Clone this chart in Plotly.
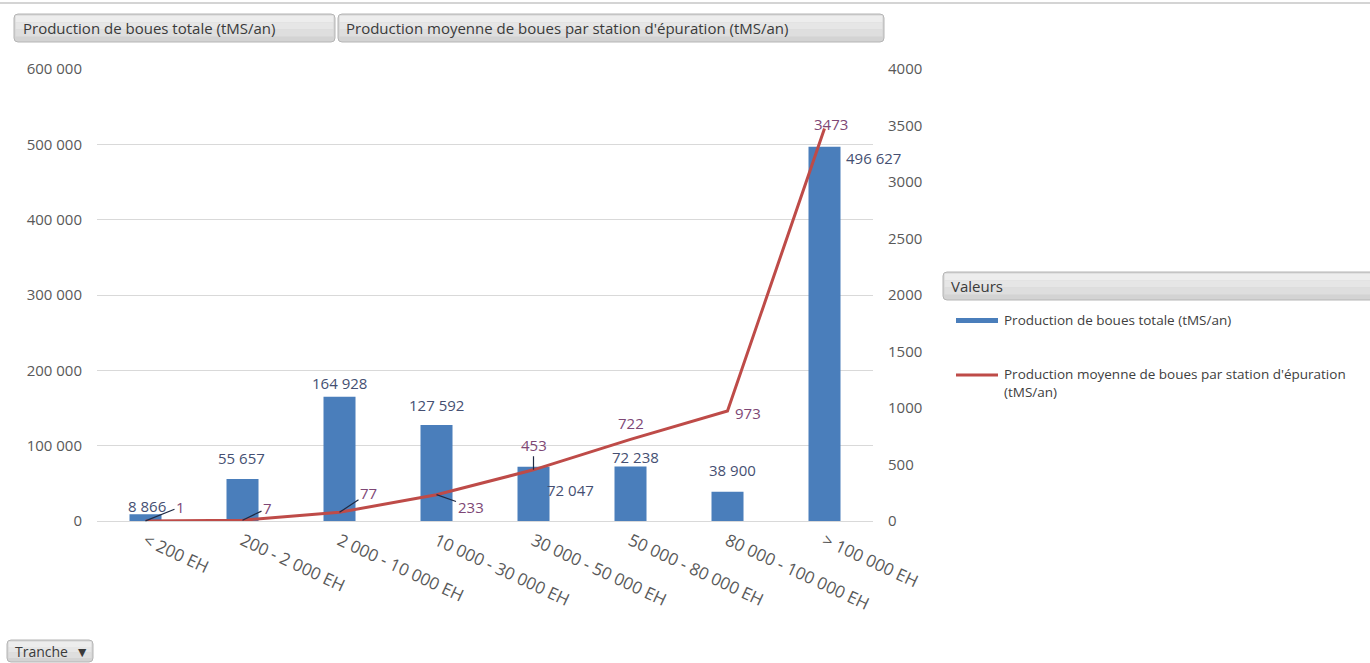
import plotly.graph_objects as go

# ---- data -------------------------------------------------------------
tranches = [
    "< 200 EH", "200 - 2 000 EH", "2 000 - 10 000 EH", "10 000 - 30 000 EH",
    "30 000 - 50 000 EH", "50 000 - 80 000 EH", "80 000 - 100 000 EH", "> 100 000 EH",
]
production_totale = [8866, 55657, 164928, 127592, 72047, 72238, 38900, 496627]      # tMS/an
production_moyenne = [1, 7, 77, 233, 453, 722, 973, 3473]                          # tMS/an par station

left_tickvals = [0, 100000, 200000, 300000, 400000, 500000, 600000]
left_ticktext = ["0", "100 000", "200 000", "300 000", "400 000", "500 000", "600 000"]
right_tickvals = [0, 500, 1000, 1500, 2000, 2500, 3000, 3500, 4000]
right_ticktext = ["0", "500", "1000", "1500", "2000", "2500", "3000", "3500", "4000"]

serie_totale = "Production de boues totale (tMS/an)"
serie_moyenne = "Production moyenne de boues par station d'épuration (tMS/an)"

# ---- label placement (pixel offsets from each mark) --------------------
bar_label_dx = [1, -1, 0, 0, 37, 5, 5, 49]
bar_label_dy = [-8, -21, -14, -20, 23, -10, -22, 11]
line_label_dx = [35, 25, 29, 34, 0, 0, 20, 6]
line_label_dy = [-14, -12, -19, 12, -25, -16, 2, -5]
line_label_leader = [True, True, True, True, True, False, False, False]

# ---- page geometry ----------------------------------------------------
W, H = 1370, 663
L, R, T, B = 97, 873, 69, 521


def px(xp):
    return (xp - L) / (R - L)


def py(yp):
    return (B - yp) / (B - T)


def fmt_space(v):
    return f"{v:,}".replace(",", " ")


FONT = "Open Sans"
TICK_COLOR = "#595959"
BAR_COLOR = "#4A7EBB"
LINE_COLOR = "#BE4B48"
BAR_LABEL_COLOR = "#454F72"
LINE_LABEL_COLOR = "#7E4775"
LEADER_COLOR = "#1F2A44"

fig = go.Figure()

fig.add_trace(go.Bar(
    x=tranches, y=production_totale, name=serie_totale,
    marker=dict(color=BAR_COLOR, line=dict(width=0)), width=0.33,
))
fig.add_trace(go.Scatter(
    x=tranches, y=production_moyenne, name=serie_moyenne, yaxis="y2",
    mode="lines", line=dict(color=LINE_COLOR, width=3),
))

# data labels for the bars
for cat, v, dx, dy in zip(tranches, production_totale, bar_label_dx, bar_label_dy):
    fig.add_annotation(
        x=cat, y=v, xref="x", yref="y", text=fmt_space(v), showarrow=False,
        xshift=dx, yshift=-dy, font=dict(family=FONT, size=15, color=BAR_LABEL_COLOR),
    )

# data labels for the line, some with leader lines
for cat, v, dx, dy, lead in zip(tranches, production_moyenne, line_label_dx,
                                line_label_dy, line_label_leader):
    common = dict(x=cat, y=v, xref="x", yref="y2", text=str(v),
                  font=dict(family=FONT, size=15, color=LINE_LABEL_COLOR))
    if lead:
        fig.add_annotation(**common, showarrow=True, arrowhead=0, arrowwidth=1.2,
                           arrowcolor=LEADER_COLOR, ax=dx, ay=dy, standoff=0)
    else:
        fig.add_annotation(**common, showarrow=False, xshift=dx, yshift=-dy)


# ---- field buttons and legend ------------------------------------------
def rounded_path(x0, y0, x1, y1, r):
    pts = [
        f"M {px(x0 + r)},{py(y0)}",
        f"L {px(x1 - r)},{py(y0)}",
        f"Q {px(x1)},{py(y0)} {px(x1)},{py(y0 + r)}",
        f"L {px(x1)},{py(y1 - r)}",
        f"Q {px(x1)},{py(y1)} {px(x1 - r)},{py(y1)}",
        f"L {px(x0 + r)},{py(y1)}",
        f"Q {px(x0)},{py(y1)} {px(x0)},{py(y1 - r)}",
        f"L {px(x0)},{py(y0 + r)}",
        f"Q {px(x0)},{py(y0)} {px(x0 + r)},{py(y0)}",
        "Z",
    ]
    return " ".join(pts)


def button(x0, y0, x1, y1, label, tx, size=15):
    fig.add_shape(type="path", xref="paper", yref="paper",
                  path=rounded_path(x0, y0, x1, y1, 4),
                  fillcolor="#D3D3D3", line=dict(color="#B5B5B5", width=1), layer="below")
    # soft vertical shading, lighter towards the top
    h = y1 - y0
    shades = ["#EDEDED", "#E6E6E6", "#DEDEDE"]
    for k, c in enumerate(shades):
        fig.add_shape(type="rect", xref="paper", yref="paper",
                      x0=px(x0 + 1.5), x1=px(x1 - 1.5),
                      y0=py(y0 + 1.5 + k * h * 0.25), y1=py(y0 + 1.5 + (k + 1) * h * 0.25),
                      fillcolor=c, line=dict(width=0), layer="below")
    fig.add_annotation(x=px(tx), y=py((y0 + y1) / 2), xref="paper", yref="paper",
                       text=label, showarrow=False, xanchor="left", yanchor="middle",
                       font=dict(family=FONT, size=size, color="#3A3A3A"))


# thin rule across the top of the page
fig.add_shape(type="line", xref="paper", yref="paper", x0=px(0), x1=px(W),
              y0=py(3), y1=py(3), line=dict(color="#D4D4D4", width=2))

button(14, 14, 335, 42, serie_totale, 21)
button(338, 14, 884, 42, serie_moyenne, 344)
button(943, 272, 1380, 300, "Valeurs", 949)
button(7, 640, 93, 662, "Tranche  \u25BC", 13, size=14)

# legend entries
fig.add_shape(type="rect", xref="paper", yref="paper", x0=px(956), x1=px(998),
              y0=py(318), y1=py(323), fillcolor=BAR_COLOR, line=dict(width=0))
fig.add_annotation(x=px(1002), y=py(320), xref="paper", yref="paper", text=serie_totale,
                   showarrow=False, xanchor="left", yanchor="middle",
                   font=dict(family=FONT, size=13.5, color="#404040"))
fig.add_shape(type="line", xref="paper", yref="paper", x0=px(956), x1=px(998),
              y0=py(375), y1=py(375), line=dict(color=LINE_COLOR, width=3))
fig.add_annotation(x=px(1002), y=py(383), xref="paper", yref="paper",
                   text="Production moyenne de boues par station d'épuration<br>(tMS/an)",
                   showarrow=False, xanchor="left", yanchor="middle", align="left",
                   font=dict(family=FONT, size=13.5, color="#404040"))

# ---- axes & layout ------------------------------------------------------
tickfont = dict(family=FONT, size=15, color=TICK_COLOR)
fig.update_layout(
    width=W, height=H,
    margin=dict(l=L, r=W - R, t=T, b=H - B, autoexpand=False),
    paper_bgcolor="white", plot_bgcolor="white",
    showlegend=False,
    font=dict(family=FONT),
    xaxis=dict(type="category", range=[-0.5, 7.5], tickangle=25,
               tickfont=dict(family=FONT, size=17, color=TICK_COLOR),
               showgrid=False, showline=False, ticks="", ticklabelstandoff=6),
    yaxis=dict(range=[0, 600000], tickvals=left_tickvals, ticktext=left_ticktext,
               tickfont=tickfont, gridcolor="#D9D9D9", gridwidth=1,
               zeroline=True, zerolinecolor="#D9D9D9", zerolinewidth=1,
               showline=False, ticks="", ticklabelstandoff=14),
    yaxis2=dict(range=[0, 4000], overlaying="y", side="right",
                tickvals=right_tickvals, ticktext=right_ticktext, tickfont=tickfont,
                showgrid=False, zeroline=False, showline=False, ticks="",
                ticklabelstandoff=14),
)

fig.write_html("out.html")
